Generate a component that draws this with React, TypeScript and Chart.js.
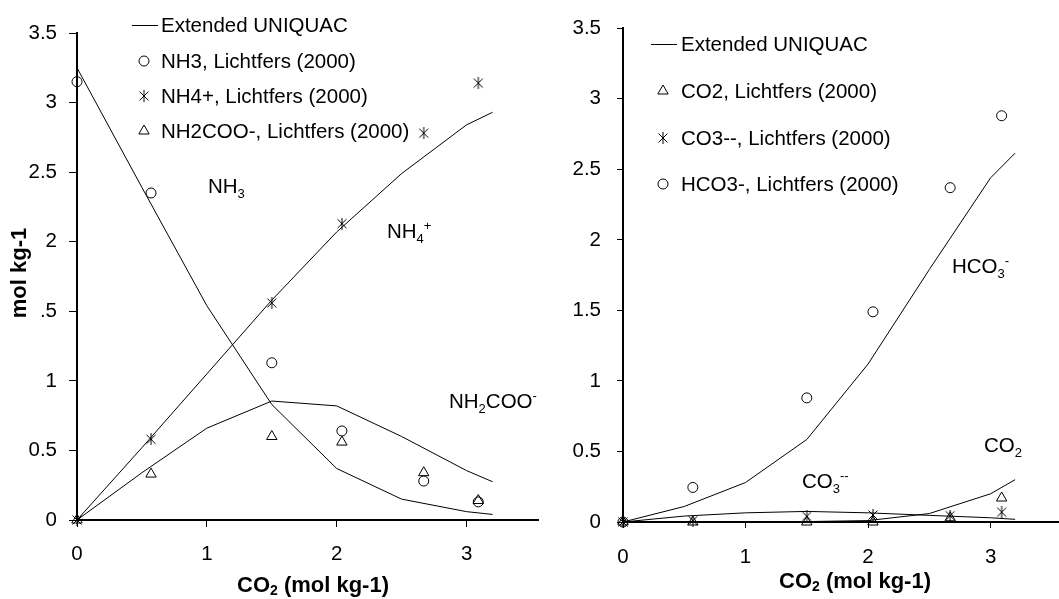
import React, { useEffect, useRef } from "react";
import { Chart, registerables } from "chart.js";

Chart.register(...registerables);

const FONT = '"Liberation Sans", Arial, Helvetica, sans-serif';
const FONT_SIZE = 20.5;
const TITLE_SIZE = 22;

// CO2 loading (mol kg-1) at which the Extended UNIQUAC curves are evaluated
const modelLoading = [0, 0.5, 1, 1.5, 2, 2.5, 3, 3.2];
// CO2 loading of the Lichtfers (2000) measurements
const expLoading = [0, 0.57, 1.5, 2.04, 2.67, 3.09];

// Left panel: ammonia species
const nh3Model = [3.25, 2.39, 1.54, 0.83, 0.37, 0.15, 0.06, 0.04];
const nh4Model = [0, 0.52, 1.05, 1.58, 2.07, 2.49, 2.84, 2.93];
const nh2cooModel = [0, 0.34, 0.66, 0.855, 0.82, 0.6, 0.355, 0.275];
const nh3Exp = [3.15, 2.35, 1.13, 0.64, 0.28, 0.13];
const nh4Exp = [0, 0.58, 1.56, 2.13, 2.78, 3.14];
const nh2cooExp = [0, 0.33, 0.6, 0.56, 0.34, 0.14];

// Right panel: carbon species
const hco3Model = [0, 0.11, 0.28, 0.585, 1.12, 1.79, 2.44, 2.615];
const co2Model = [0, 0, 0.001, 0.003, 0.01, 0.06, 0.2, 0.3];
const co3Model = [0, 0.042, 0.065, 0.075, 0.065, 0.047, 0.03, 0.019];
const co2Exp = [0, 0, 0, 0, 0.03, 0.17];
const co3Exp = [0, 0.01, 0.04, 0.05, 0.045, 0.07];
const hco3Exp = [0, 0.245, 0.88, 1.49, 2.37, 2.88];

// Axis ticks
const xTicks = [0, 1, 2, 3];
const xMax = 3.55;
const yMax = 3.5;
const yStep = 0.5;

// Legend entries
const leftLegend = [
  "Extended UNIQUAC",
  "NH3, Lichtfers (2000)",
  "NH4+, Lichtfers (2000)",
  "NH2COO-, Lichtfers (2000)",
];
const rightLegend = [
  "Extended UNIQUAC",
  "CO2, Lichtfers (2000)",
  "CO3--, Lichtfers (2000)",
  "HCO3-, Lichtfers (2000)",
];

type Seg = { t: string; k?: "sub" | "sup" };
type Marker = "circle" | "star" | "triangle";

const xTitle: Seg[] = [{ t: "CO" }, { t: "2", k: "sub" }, { t: " (mol kg-1)" }];
const yTitle = "mol kg-1";

interface Panel {
  left: number;
  width: number;
  yAxisWidth: number;
  areaTop: number;
  padRight: number;
  xAxisHeight: number;
  xTickLen: number;
  xTickPad: number;
  yTickLen: number;
  yTickPad: number;
  models: number[][];
  exps: { values: number[]; marker: Marker }[];
  legend: {
    lineX0: number;
    lineX1: number;
    markerX: number;
    textX: number;
    rows: { y: number; label: string; marker?: Marker }[];
  };
  notes: { x: number; y: number; segs: Seg[] }[];
  xTitlePos: { cx: number; cy: number };
  yTitlePos?: { cx: number; cy: number; box: [number, number, number, number] };
}

const leftPanel: Panel = {
  left: 0,
  width: 545,
  yAxisWidth: 77,
  areaTop: 33,
  padRight: 7,
  xAxisHeight: 79,
  xTickLen: 7,
  xTickPad: 15,
  yTickLen: 8,
  yTickPad: 12,
  models: [nh3Model, nh4Model, nh2cooModel],
  exps: [
    { values: nh3Exp, marker: "circle" },
    { values: nh4Exp, marker: "star" },
    { values: nh2cooExp, marker: "triangle" },
  ],
  legend: {
    lineX0: 132,
    lineX1: 158,
    markerX: 144,
    textX: 161,
    rows: [
      { y: 25, label: leftLegend[0] },
      { y: 61, label: leftLegend[1], marker: "circle" },
      { y: 96, label: leftLegend[2], marker: "star" },
      { y: 131, label: leftLegend[3], marker: "triangle" },
    ],
  },
  notes: [
    { x: 208, y: 193, segs: [{ t: "NH" }, { t: "3", k: "sub" }] },
    { x: 387, y: 238, segs: [{ t: "NH" }, { t: "4", k: "sub" }, { t: "+", k: "sup" }] },
    { x: 449, y: 408, segs: [{ t: "NH" }, { t: "2", k: "sub" }, { t: "COO" }, { t: "-", k: "sup" }] },
  ],
  xTitlePos: { cx: 313, cy: 586 },
  yTitlePos: { cx: 20, cy: 273, box: [0, 214, 41, 118] },
};

const rightPanel: Panel = {
  left: 545,
  width: 520,
  yAxisWidth: 78,
  areaTop: 20,
  padRight: 3,
  xAxisHeight: 77,
  xTickLen: 6,
  xTickPad: 17,
  yTickLen: 6,
  yTickPad: 16,
  models: [hco3Model, co2Model, co3Model],
  exps: [
    { values: co2Exp, marker: "triangle" },
    { values: co3Exp, marker: "star" },
    { values: hco3Exp, marker: "circle" },
  ],
  legend: {
    lineX0: 651,
    lineX1: 677,
    markerX: 663,
    textX: 681,
    rows: [
      { y: 44, label: rightLegend[0] },
      { y: 91, label: rightLegend[1], marker: "triangle" },
      { y: 138, label: rightLegend[2], marker: "star" },
      { y: 184, label: rightLegend[3], marker: "circle" },
    ],
  },
  notes: [
    { x: 952, y: 273, segs: [{ t: "HCO" }, { t: "3", k: "sub" }, { t: "-", k: "sup" }] },
    { x: 802, y: 488, segs: [{ t: "CO" }, { t: "3", k: "sub" }, { t: "--", k: "sup" }] },
    { x: 984, y: 452, segs: [{ t: "CO" }, { t: "2", k: "sub" }] },
  ],
  xTitlePos: { cx: 855, cy: 582 },
};

const CIRCLE_R = 5;
const TRIANGLE_R = 6;

function makeStar(): HTMLCanvasElement {
  const c = document.createElement("canvas");
  c.width = 12;
  c.height = 12;
  const g = c.getContext("2d")!;
  g.strokeStyle = "#000";
  g.lineWidth = 1;
  g.beginPath();
  g.moveTo(1.5, 1.5);
  g.lineTo(10.5, 10.5);
  g.moveTo(10.5, 1.5);
  g.lineTo(1.5, 10.5);
  g.moveTo(6, 0);
  g.lineTo(6, 12);
  g.stroke();
  return c;
}

function segFont(size: number, bold: boolean) {
  return `${bold ? "bold " : ""}${size}px ${FONT}`;
}

function richWidth(ctx: CanvasRenderingContext2D, segs: Seg[], size: number, bold: boolean) {
  let w = 0;
  for (const s of segs) {
    ctx.font = segFont(s.k ? Math.round(size * 0.65) : size, bold);
    w += ctx.measureText(s.t).width;
  }
  return w;
}

function drawRich(
  ctx: CanvasRenderingContext2D,
  segs: Seg[],
  x: number,
  y: number,
  size: number,
  bold = false
) {
  let cx = x;
  for (const s of segs) {
    ctx.font = segFont(s.k ? Math.round(size * 0.65) : size, bold);
    const dy = s.k === "sub" ? size * 0.22 : s.k === "sup" ? -size * 0.4 : 0;
    ctx.fillText(s.t, cx, y + dy);
    cx += ctx.measureText(s.t).width;
  }
}

function drawMarker(
  ctx: CanvasRenderingContext2D,
  kind: Marker,
  x: number,
  y: number,
  star: HTMLCanvasElement
) {
  ctx.save();
  ctx.strokeStyle = "#000";
  ctx.lineWidth = 1;
  if (kind === "circle") {
    ctx.beginPath();
    ctx.arc(x, y, CIRCLE_R, 0, Math.PI * 2);
    ctx.stroke();
  } else if (kind === "triangle") {
    const r = TRIANGLE_R;
    ctx.beginPath();
    ctx.moveTo(x, y - r);
    ctx.lineTo(x + r * Math.sin((2 * Math.PI) / 3), y - r * Math.cos((2 * Math.PI) / 3));
    ctx.lineTo(x + r * Math.sin((4 * Math.PI) / 3), y - r * Math.cos((4 * Math.PI) / 3));
    ctx.closePath();
    ctx.stroke();
  } else {
    ctx.drawImage(star, x - star.width / 2, y - star.height / 2);
  }
  ctx.restore();
}

const pts = (xs: number[], ys: number[]) => xs.map((x, i) => ({ x, y: ys[i] }));

function overlayPlugin(p: Panel, star: HTMLCanvasElement) {
  return {
    id: "overlay",
    afterDraw(chart: Chart) {
      const ctx = chart.ctx;
      ctx.save();
      ctx.translate(-p.left, 0);
      ctx.fillStyle = "#000";

      // legend
      const lg = p.legend;
      ctx.textBaseline = "middle";
      ctx.textAlign = "left";
      for (const row of lg.rows) {
        if (row.marker) {
          drawMarker(ctx, row.marker, lg.markerX, row.y, star);
        } else {
          ctx.beginPath();
          ctx.strokeStyle = "#000";
          ctx.lineWidth = 1;
          ctx.moveTo(lg.lineX0, row.y + 0.5);
          ctx.lineTo(lg.lineX1, row.y + 0.5);
          ctx.stroke();
        }
        ctx.font = segFont(FONT_SIZE, false);
        ctx.fillText(row.label, lg.textX, row.y + 1);
      }

      // species labels next to the curves
      ctx.textBaseline = "alphabetic";
      for (const n of p.notes) drawRich(ctx, n.segs, n.x, n.y, FONT_SIZE);

      // x-axis title
      ctx.textBaseline = "middle";
      const w = richWidth(ctx, xTitle, TITLE_SIZE, true);
      drawRich(ctx, xTitle, p.xTitlePos.cx - w / 2, p.xTitlePos.cy, TITLE_SIZE, true);

      // y-axis title on its own white box
      if (p.yTitlePos) {
        const [bx, by, bw, bh] = p.yTitlePos.box;
        ctx.fillStyle = "#fff";
        ctx.fillRect(bx, by, bw, bh);
        ctx.fillStyle = "#000";
        ctx.save();
        ctx.translate(p.yTitlePos.cx, p.yTitlePos.cy);
        ctx.rotate(-Math.PI / 2);
        ctx.textAlign = "center";
        ctx.textBaseline = "middle";
        ctx.font = segFont(TITLE_SIZE, true);
        ctx.fillText(yTitle, 0, 0);
        ctx.restore();
      }
      ctx.restore();
    },
  };
}

function buildConfig(p: Panel, star: HTMLCanvasElement): any {
  const modelSets = p.models.map((ys) => ({
    data: pts(modelLoading, ys),
    showLine: true,
    borderColor: "#000",
    borderWidth: 1,
    pointRadius: 0,
    fill: false,
    tension: 0,
    clip: false,
  }));
  const expSets = p.exps.map((e) => ({
    data: pts(expLoading, e.values),
    showLine: false,
    pointStyle: e.marker === "star" ? star : e.marker,
    pointRadius: e.marker === "triangle" ? TRIANGLE_R : CIRCLE_R,
    borderColor: "#000",
    backgroundColor: "rgba(0,0,0,0)",
    borderWidth: 1,
    clip: false,
  }));
  const tickFont = { family: FONT, size: FONT_SIZE };
  const plain = (v: number | string) => String(Number(v));
  return {
    type: "scatter",
    data: { datasets: [...modelSets, ...expSets] },
    options: {
      animation: false,
      responsive: false,
      devicePixelRatio: 1,
      events: [],
      layout: { padding: { left: 0, top: p.areaTop, right: p.padRight, bottom: 0 } },
      plugins: { legend: { display: false }, tooltip: { enabled: false } },
      scales: {
        x: {
          type: "linear",
          min: 0,
          max: xMax,
          afterBuildTicks: (s: any) => {
            s.ticks = xTicks.map((v) => ({ value: v }));
          },
          afterFit: (s: any) => {
            s.height = p.xAxisHeight;
          },
          grid: { drawOnChartArea: false, drawTicks: true, tickLength: p.xTickLen, color: "#000", lineWidth: 1 },
          border: { display: true, color: "#000", width: 2 },
          ticks: {
            color: "#000",
            font: tickFont,
            padding: p.xTickPad,
            maxRotation: 0,
            autoSkip: false,
            includeBounds: false,
            callback: plain,
          },
        },
        y: {
          type: "linear",
          min: 0,
          max: yMax,
          afterFit: (s: any) => {
            s.width = p.yAxisWidth;
          },
          grid: { drawOnChartArea: false, drawTicks: true, tickLength: p.yTickLen, color: "#000", lineWidth: 1 },
          border: { display: true, color: "#000", width: 2 },
          ticks: {
            stepSize: yStep,
            color: "#000",
            font: tickFont,
            padding: p.yTickPad,
            autoSkip: false,
            callback: plain,
          },
        },
      },
    },
    plugins: [overlayPlugin(p, star)],
  };
}

export default function App() {
  const leftRef = useRef<HTMLCanvasElement>(null);
  const rightRef = useRef<HTMLCanvasElement>(null);

  useEffect(() => {
    const star = makeStar();
    const charts = [
      new Chart(leftRef.current!, buildConfig(leftPanel, star)),
      new Chart(rightRef.current!, buildConfig(rightPanel, star)),
    ];
    return () => charts.forEach((c) => c.destroy());
  }, []);

  return (
    <div
      style={{
        position: "fixed",
        left: 0,
        top: 0,
        width: 1059,
        height: 599,
        overflow: "hidden",
        background: "#fff",
      }}
    >
      <canvas
        ref={leftRef}
        width={leftPanel.width}
        height={599}
        style={{ position: "absolute", left: leftPanel.left, top: 0, width: leftPanel.width, height: 599 }}
      />
      <canvas
        ref={rightRef}
        width={rightPanel.width}
        height={599}
        style={{ position: "absolute", left: rightPanel.left, top: 0, width: rightPanel.width, height: 599 }}
      />
    </div>
  );
}
